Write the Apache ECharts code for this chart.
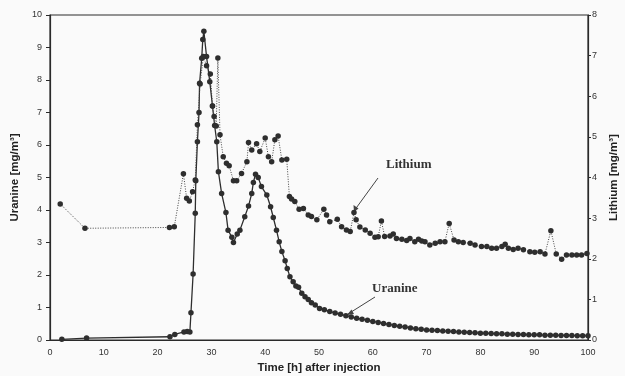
<!DOCTYPE html>
<html>
<head>
<meta charset="utf-8">
<script src="https://cdn.jsdelivr.net/npm/echarts@6/dist/echarts.min.js"></script>
<style>
html,body{margin:0;padding:0;background:#fafafa;}
#c{width:625px;height:376px;}
</style>
</head>
<body>
<div id="c"></div>
<script>
// ---- data ----
var xTicks = [0,10,20,30,40,50,60,70,80,90,100];
var uranineTicks = [0,1,2,3,4,5,6,7,8,9,10];
var lithiumTicks = [0,1,2,3,4,5,6,7,8];

var uranineTime = [2.2,6.8,22.3,23.2,24.9,25.5,26.0,26.2,26.6,27.0,27.1,27.4,27.7,27.8,28.2,28.4,28.6,29.1,29.7,30.2,30.6,31.0,31.3,31.9,32.7,33.1,33.8,34.1,34.8,35.3,36.2,36.9,37.5,37.8,38.2,38.7,39.3,40.3,41.0,41.5,42.1,42.6,43.1,43.7,44.1,44.6,45.2,45.7,46.2,46.8,47.4,48.0,48.6,49.3,50.1,51,52,53,54,55,56,57,58,59,60,61,62,63,64,65,66,67,68,69,70,71,72,73,74,75,76,77,78,79,80,81,82,83,84,85,86,87,88,89,90,91,92,93,94,95,96,97,98,99,100];
var uranineValue = [0.02,0.06,0.10,0.17,0.25,0.26,0.25,0.84,2.03,3.90,4.90,6.10,7.00,7.90,8.67,9.25,9.50,8.72,7.95,7.20,6.60,6.10,5.18,4.51,3.92,3.38,3.16,3.00,3.26,3.38,3.79,4.12,4.51,4.85,5.10,5.00,4.72,4.46,4.10,3.77,3.38,3.02,2.72,2.44,2.20,1.95,1.79,1.66,1.62,1.44,1.33,1.25,1.15,1.08,0.97,0.93,0.88,0.83,0.79,0.75,0.71,0.67,0.64,0.61,0.57,0.54,0.51,0.48,0.45,0.42,0.40,0.37,0.35,0.33,0.31,0.30,0.29,0.28,0.27,0.26,0.25,0.24,0.23,0.22,0.21,0.21,0.20,0.19,0.19,0.18,0.18,0.17,0.17,0.16,0.16,0.16,0.15,0.15,0.15,0.14,0.14,0.14,0.13,0.13,0.13];

var lithiumTime = [1.9,6.5,22.2,23.1,24.8,25.4,25.9,26.5,27.0,27.4,27.9,28.5,29.1,29.8,30.2,30.5,30.9,31.2,31.6,32.2,32.8,33.3,34.1,34.7,35.6,36.6,36.9,37.5,38.4,39.0,40.0,40.6,41.2,41.8,42.4,43.1,44.0,44.5,44.9,45.5,46.3,47.1,48.0,48.6,49.6,50.9,51.4,52.0,53.4,54.2,55.1,55.8,56.5,56.9,57.6,58.6,59.5,60.4,61.0,61.6,62.2,63.2,63.8,64.4,65.4,66.3,66.9,67.8,68.5,69.1,69.7,70.6,71.6,72.5,73.4,74.2,75.1,75.9,76.8,78.1,79.0,80.2,81.2,82.1,83.0,84.0,84.6,85.2,86.1,87.0,88.0,89.2,90.1,91.1,92.0,93.1,94.1,95.1,96.0,97.0,97.9,98.8,99.8];
var lithiumValue = [3.35,2.75,2.77,2.79,4.09,3.49,3.42,3.65,3.94,5.30,6.30,6.98,6.75,6.55,5.76,5.50,5.27,6.94,5.05,4.51,4.35,4.29,3.92,3.92,4.10,4.39,4.86,4.68,4.83,4.64,4.97,4.51,4.39,4.93,5.02,4.43,4.45,3.53,3.47,3.41,3.22,3.24,3.08,3.04,2.96,3.22,3.08,2.91,2.97,2.79,2.71,2.67,3.14,2.96,2.78,2.71,2.63,2.53,2.54,2.93,2.55,2.56,2.61,2.50,2.48,2.45,2.50,2.42,2.48,2.44,2.42,2.34,2.38,2.42,2.42,2.87,2.46,2.42,2.40,2.38,2.34,2.30,2.30,2.26,2.26,2.30,2.36,2.26,2.23,2.26,2.22,2.17,2.16,2.17,2.12,2.69,2.12,1.99,2.09,2.09,2.09,2.09,2.13];

var xAxisName = 'Time [h] after injection';
var leftAxisName = 'Uranine [mg/m\u00b3]';
var rightAxisName = 'Lithium [mg/m\u00b3]';

function pairs(t, v){ return t.map(function(x,i){ return [x, v[i]]; }); }

var ink = '#2a2a2a';
var nameStyle = {fontFamily:'Liberation Sans', fontWeight:'bold', fontSize:11.5, color:'#222'};
var labelStyle = {fontFamily:'Liberation Sans', fontSize:9, color:'#333'};
var chart = echarts.init(document.getElementById('c'), null, {renderer:'canvas'});
chart.setOption({
  backgroundColor: '#fafafa',
  animation: false,
  grid: {left:50, right:37, top:15, bottom:36, outerBoundsMode:'none', containLabel:false,
         show:true, borderColor:ink, borderWidth:1.2, backgroundColor:'transparent'},
  xAxis: {
    type:'value', min:0, max:100, interval:10,
    name: xAxisName, nameLocation:'middle', nameGap:21,
    nameTextStyle: nameStyle,
    axisLine:{show:true, lineStyle:{color:ink, width:1.2}},
    axisTick:{show:false},
    axisLabel: Object.assign({margin:8}, labelStyle),
    splitLine:{show:false}
  },
  yAxis: [{
    type:'value', min:0, max:10, interval:1, position:'left',
    name: leftAxisName, nameLocation:'middle', nameGap:25,
    nameTextStyle: nameStyle,
    axisLine:{show:true, lineStyle:{color:ink, width:1.2}},
    axisTick:{show:true, length:4, lineStyle:{color:ink}},
    axisLabel: Object.assign({margin:8}, labelStyle),
    splitLine:{show:false}
  },{
    type:'value', min:0, max:8, interval:1, position:'right',
    name: rightAxisName, nameLocation:'middle', nameGap:19,
    nameTextStyle: nameStyle,
    axisLine:{show:true, lineStyle:{color:ink, width:1.2}},
    axisTick:{show:true, length:3, lineStyle:{color:ink}},
    axisLabel: Object.assign({margin:4}, labelStyle),
    splitLine:{show:false}
  }],
  series: [{
    name:'Uranine', type:'line', yAxisIndex:0,
    data: pairs(uranineTime, uranineValue),
    symbol:'circle', symbolSize:5.5,
    itemStyle:{color:'#2e2e2e'},
    lineStyle:{color:'#2e2e2e', width:1.3, type:'solid'}
  },{
    name:'Lithium', type:'line', yAxisIndex:1,
    data: pairs(lithiumTime, lithiumValue),
    symbol:'circle', symbolSize:5.5,
    itemStyle:{color:'#2e2e2e'},
    lineStyle:{color:'#444', width:1, type:[1,1.5]}
  }],
  graphic: [
    {type:'text', left:386, top:158, style:{text:'Lithium', font:'bold 13px "Liberation Serif"', fill:'#333'}},
    {type:'line', shape:{x1:378, y1:178, x2:354, y2:211}, style:{stroke:'#444', lineWidth:1}},
    {type:'polygon', shape:{points:[[354,212],[353.5,205],[358.5,208.5]]}, style:{fill:'#444'}},
    {type:'text', left:372, top:282, style:{text:'Uranine', font:'bold 13px "Liberation Serif"', fill:'#333'}},
    {type:'line', shape:{x1:375, y1:297, x2:348, y2:314}, style:{stroke:'#444', lineWidth:1}},
    {type:'polygon', shape:{points:[[347,315],[351.5,309.5],[354,314]]}, style:{fill:'#444'}}
  ]
});
</script>
</body>
</html>
